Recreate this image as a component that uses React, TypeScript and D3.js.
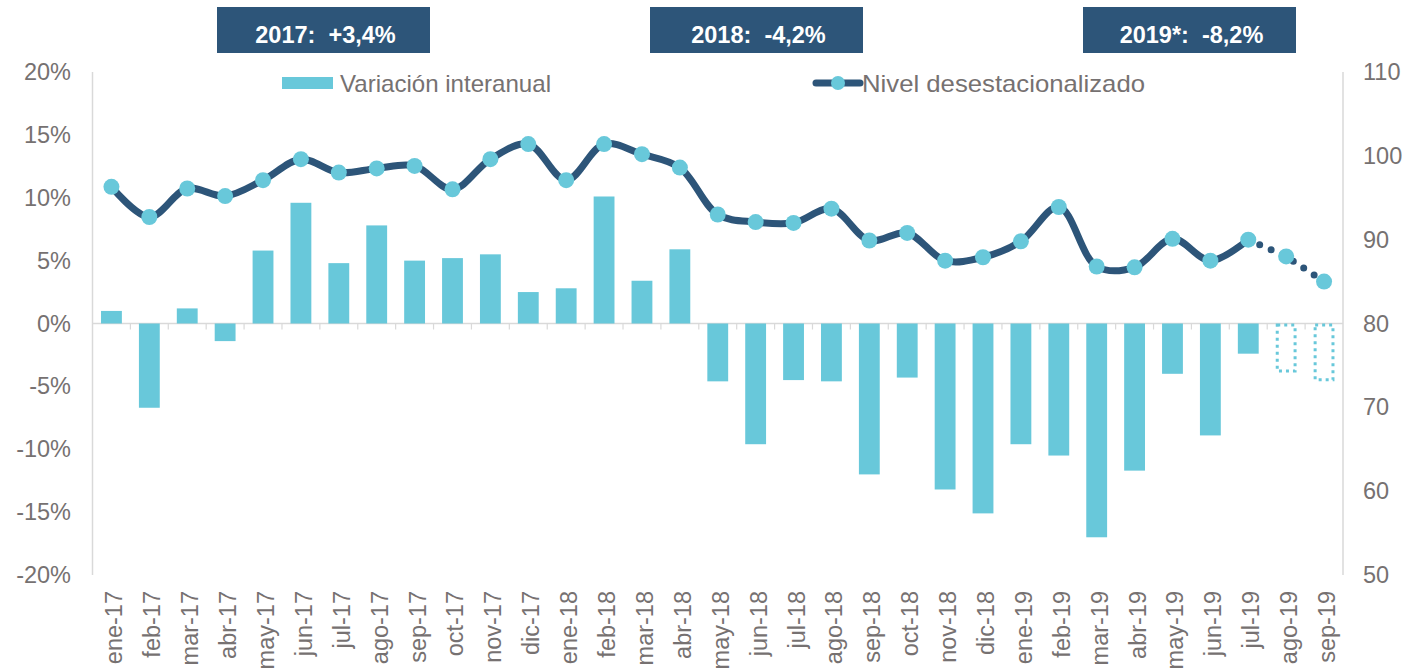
import React from "react";
import * as d3 from "d3";

const categories = [
  "ene-17","feb-17","mar-17","abr-17","may-17","jun-17","jul-17","ago-17","sep-17","oct-17","nov-17","dic-17",
  "ene-18","feb-18","mar-18","abr-18","may-18","jun-18","jul-18","ago-18","sep-18","oct-18","nov-18","dic-18",
  "ene-19","feb-19","mar-19","abr-19","may-19","jun-19","jul-19","ago-19","sep-19",
];

// Variación interanual (%)
const variacion = [
  1.0, -6.7, 1.2, -1.4, 5.8, 9.6, 4.8, 7.8, 5.0, 5.2, 5.5, 2.5,
  2.8, 10.1, 3.4, 5.9, -4.6, -9.6, -4.5, -4.6, -12.0, -4.3, -13.2, -15.1,
  -9.6, -10.5, -17.0, -11.7, -4.0, -8.9, -2.4, -3.9, -4.6,
];
// number of estimated (dotted) months at the end
const estimatedCount = 2;

// Nivel desestacionalizado (right axis)
const nivel = [
  96.3, 92.7, 96.1, 95.2, 97.1, 99.6, 98.0, 98.5, 98.8, 96.0, 99.6, 101.4,
  97.1, 101.4, 100.2, 98.6, 93.0, 92.1, 92.0, 93.7, 89.9, 90.8, 87.5, 87.9,
  89.8, 93.9, 86.8, 86.7, 90.1, 87.5, 90.0, 88.0, 85.0,
];

const leftTicks = [20, 15, 10, 5, 0, -5, -10, -15, -20];
const rightTicks = [110, 100, 90, 80, 70, 60, 50];

const bannerLabels = ["2017:  +3,4%", "2018:  -4,2%", "2019*:  -8,2%"];

// layout
const W = 1402;
const H = 668;
const plotLeft = 92.5;
const plotRight = 1343;
const yTop = 72;
const yBottom = 575;
const bannerStarts = [217, 650, 1083];
const bannerWidth = 213;

const CYAN = "#68C8DA";
const NAVY = "#2D5579";
const GRAY = "#767171";
const AXIS = "#D9D9D9";
const FONT = "'Liberation Sans', Arial, sans-serif";

export default function App() {
  const x = d3.scaleBand<string>().domain(categories).range([plotLeft, plotRight]).paddingInner(0.45).paddingOuter(0.225);
  const xBand = d3.scaleBand<string>().domain(categories).range([plotLeft, plotRight]);
  const yL = d3.scaleLinear().domain([-20, 20]).range([yBottom, yTop]);
  const yR = d3.scaleLinear().domain([50, 110]).range([yBottom, yTop]);
  const cx = (c: string) => (xBand(c) as number) + xBand.bandwidth() / 2;

  const nSolid = categories.length - estimatedCount;
  const pts: [number, number][] = categories.map((c, i) => [cx(c), yR(nivel[i])]);
  const lineGen = d3.line<[number, number]>().x((d) => d[0]).y((d) => d[1]).curve(d3.curveCatmullRom.alpha(0.5));
  const solidPath = lineGen(pts.slice(0, nSolid)) as string;
  const dottedPath = d3.line<[number, number]>().curve(d3.curveLinear)(pts.slice(nSolid - 1)) as string;

  const y0 = yL(0);

  return (
    <svg width={W} height={H} style={{ position: "absolute", left: 0, top: 0, background: "#fff" }} fontFamily={FONT}>
      {/* banners */}
      {bannerLabels.map((label, i) => {
        const x0 = bannerStarts[i];
        return (
          <g key={label}>
            <rect x={x0} y={7} width={bannerWidth} height={46} fill={NAVY} />
            <text x={x0 + bannerWidth / 2 + 2} y={43} textAnchor="middle" fill="#fff" fontSize={23.5} fontWeight="bold" style={{ whiteSpace: "pre" }}>
              {label}
            </text>
          </g>
        );
      })}

      {/* legend */}
      <rect x={282} y={77} width={51} height={12} fill={CYAN} />
      <text x={340} y={92} fontSize={24} fill={GRAY} textLength={211} lengthAdjust="spacingAndGlyphs">Variación interanual</text>
      <line x1={816} x2={860} y1={83} y2={83} stroke={NAVY} strokeWidth={7} strokeLinecap="round" />
      <circle cx={838} cy={83} r={7} fill={CYAN} />
      <text x={862} y={92} fontSize={24} fill={GRAY} textLength={283} lengthAdjust="spacingAndGlyphs">Nivel desestacionalizado</text>

      {/* axes lines */}
      <line x1={plotLeft} x2={plotLeft} y1={yTop} y2={yBottom} stroke={AXIS} strokeWidth={1.5} />
      <line x1={plotRight} x2={plotRight} y1={yTop} y2={yBottom} stroke={AXIS} strokeWidth={1.5} />
      <line x1={plotLeft} x2={plotRight} y1={y0} y2={y0} stroke={AXIS} strokeWidth={1.5} />
      {categories.slice(1).map((c) => (
        <line key={"t" + c} x1={xBand(c) as number} x2={xBand(c) as number} y1={y0} y2={y0 + 6} stroke={AXIS} strokeWidth={1.2} />
      ))}

      {/* left ticks */}
      {leftTicks.map((t) => (
        <text key={"l" + t} x={71} y={yL(t) + 8} textAnchor="end" fontSize={23.5} fill={GRAY}>{t + "%"}</text>
      ))}
      {/* right ticks */}
      {rightTicks.map((t) => (
        <text key={"r" + t} x={1363} y={yR(t) + 8} textAnchor="start" fontSize={23.5} fill={GRAY}>{t}</text>
      ))}

      {/* bars */}
      {categories.map((c, i) => {
        const v = variacion[i];
        const yTopBar = v >= 0 ? yL(v) : y0;
        const h = Math.abs(yL(v) - y0);
        if (i >= nSolid) {
          return (
            <rect key={"b" + c} x={(x(c) as number) + 1.5} y={yTopBar + 1.5} width={x.bandwidth() - 3} height={h - 3}
              fill="none" stroke={CYAN} strokeWidth={3} strokeDasharray="3 4" />
          );
        }
        return <rect key={"b" + c} x={x(c) as number} y={yTopBar} width={x.bandwidth()} height={h} fill={CYAN} />;
      })}

      {/* line */}
      <path d={solidPath} fill="none" stroke={NAVY} strokeWidth={7} strokeLinejoin="round" strokeLinecap="round" />
      <path d={dottedPath} fill="none" stroke={NAVY} strokeWidth={7} strokeLinecap="round" strokeDasharray="0 12.5" />
      {pts.map((p, i) => (
        <circle key={"m" + i} cx={p[0]} cy={p[1]} r={8} fill={CYAN} />
      ))}

      {/* x labels */}
      {categories.map((c) => (
        <text key={"x" + c} transform={`translate(${cx(c) + 11},${591}) rotate(-90)`} textAnchor="end" fontSize={23.5} fill={GRAY}>
          {c}
        </text>
      ))}
    </svg>
  );
}
